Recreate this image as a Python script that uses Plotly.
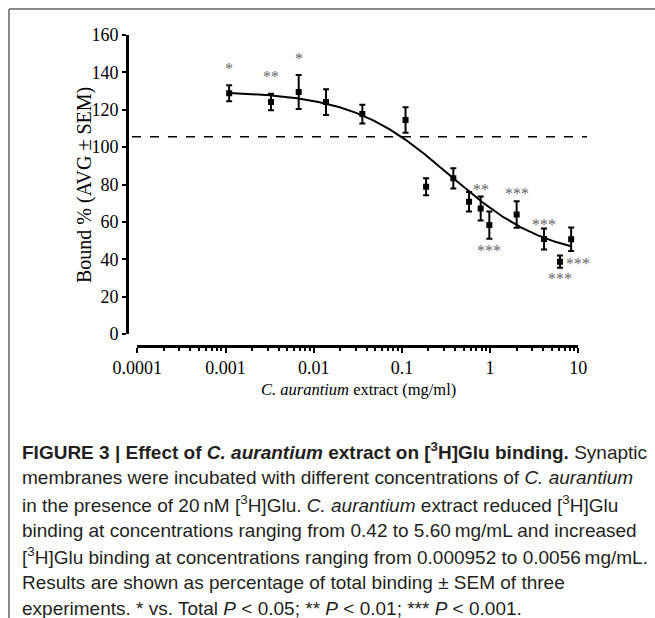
import numpy as np
import plotly.graph_objects as go

# ---------------- data ----------------
conc = [0.00110, 0.00328, 0.00676, 0.0138, 0.0356, 0.110, 0.188, 0.383,
        0.577, 0.782, 0.98, 2.0, 4.09, 6.2, 8.3]
bound = [128.8, 124.1, 129.5, 124.1, 117.7, 114.5, 78.8, 83.3,
         70.8, 67.2, 58.3, 64.0, 50.8, 38.7, 50.7]
sem = [4.3, 4.4, 9.1, 6.9, 5.0, 6.8, 4.6, 5.4,
       5.2, 6.4, 7.3, 7.1, 5.6, 3.3, 6.3]

total_level = 105.6          # dashed reference line

# sigmoidal fit drawn in the figure (4-parameter logistic)
fit_top = 130.0
fit_bottom = 40.0
fit_logec50 = -0.459
fit_hill = 0.78

# significance marks: index of point and label
star_point = [0, 1, 2, 9, 10, 11, 12, 13, 13]
star_text = ["*", "**", "*", "**", "***", "***", "***", "***", "***"]

x_tickvals = [0.0001, 0.001, 0.01, 0.1, 1, 10]
x_ticktext = ["0.0001", "0.001", "0.01", "0.1", "1", "10"]
y_tickvals = [0, 20, 40, 60, 80, 100, 120, 140, 160]

caption_lines = [
    "<b>FIGURE 3 | Effect of <i>C. aurantium</i> extract on [<sup>3</sup>H]Glu binding.</b> Synaptic",
    "membranes were incubated with different concentrations of <i>C. aurantium</i>",
    "in the presence of 20\u2009nM [<sup>3</sup>H]Glu. <i>C. aurantium</i> extract reduced [<sup>3</sup>H]Glu",
    "binding at concentrations ranging from 0.42 to 5.60\u2009mg/mL and increased",
    "[<sup>3</sup>H]Glu binding at concentrations ranging from 0.000952 to 0.0056\u2009mg/mL.",
    "Results are shown as percentage of total binding \u00b1 SEM of three",
    "experiments. * vs. Total <i>P</i> &lt; 0.05; ** <i>P</i> &lt; 0.01; *** <i>P</i> &lt; 0.001.",
]

# ---------------- layout geometry (pixels) ----------------
W, H = 655, 618
XL, XR = 137.3, 578.3      # px of 0.0001 and 10
Y0, Y1 = 334.0, 35.0       # px of 0 and 160
XAXIS_Y = 346.0
YAXIS_X = 127.0

def px(x):
    return x / W

def py(y):
    return 1 - y / H

serif = "Liberation Serif"
sans = "Liberation Sans"

fig = go.Figure()

# fitted curve
lx = np.linspace(np.log10(conc[0]), np.log10(conc[-1]), 300)
fy = fit_bottom + (fit_top - fit_bottom) / (1 + 10 ** ((lx - fit_logec50) * fit_hill))
fig.add_trace(go.Scatter(x=10 ** lx, y=fy, mode="lines",
                         line=dict(color="black", width=2), hoverinfo="skip",
                         showlegend=False))

# data points with SEM
fig.add_trace(go.Scatter(
    x=conc, y=bound, mode="markers",
    marker=dict(symbol="square", size=6, color="black"),
    error_y=dict(type="data", array=sem, visible=True, color="black",
                 thickness=2, width=3),
    showlegend=False))

# dashed total line
fig.add_shape(type="line", xref="paper", yref="y",
              x0=px(132), x1=px(587), y0=total_level, y1=total_level,
              line=dict(color="black", width=1.5, dash="dash"))

# significance stars
star_dx = [0, 0, 0, 0, 0, 0, 0, 18, 0]
star_dy = [24.5, 25.5, 33.5, 18.5, -25.5, 21, 14.5, -1.6, -16.6]
for i, t, dx, dy in zip(star_point, star_text, star_dx, star_dy):
    fig.add_annotation(x=np.log10(conc[i]), y=bound[i], xref="x", yref="y",
                       text=t, showarrow=False, xshift=dx, yshift=dy,
                       xanchor="center", yanchor="middle",
                       font=dict(family=serif, size=16, color="#666666"))

# axis titles
fig.add_annotation(x=px(85), y=py(185), xref="paper", yref="paper",
                   xanchor="center", yanchor="middle",
                   text="Bound % (AVG \u00b1 SEM)", textangle=-90, showarrow=False,
                   font=dict(family=serif, size=20, color="black"))
fig.add_annotation(x=px(358.5), y=py(389), xref="paper", yref="paper",
                   xanchor="center", yanchor="middle",
                   text="<i>C. aurantium</i> extract (mg/ml)", showarrow=False,
                   font=dict(family=serif, size=16.5, color="black"))

# caption
cap_y = [451, 477, 504, 530, 556, 582, 608]
for t, yy in zip(caption_lines, cap_y):
    fig.add_annotation(x=px(20), y=py(yy), xref="paper", yref="paper",
                       xanchor="left", yanchor="middle", text=t, showarrow=False,
                       font=dict(family=sans, size=19, color="#231f20"))

# frame
fig.add_shape(type="line", xref="paper", yref="paper", x0=px(9), x1=1,
              y0=py(9), y1=py(9), line=dict(color="#8a8a8a", width=2))
fig.add_shape(type="line", xref="paper", yref="paper", x0=px(9), x1=px(9),
              y0=py(9), y1=0, line=dict(color="#8a8a8a", width=2))

minor_vals = [m * 10.0 ** e for e in range(-4, 1) for m in range(2, 10)]

fig.update_layout(
    width=W, height=H, margin=dict(l=0, r=0, t=0, b=0, autoexpand=False),
    paper_bgcolor="white", plot_bgcolor="white", showlegend=False,
    xaxis=dict(type="log", range=[-4, 1], domain=[px(XL), px(XR)],
               anchor="free", position=py(XAXIS_Y), automargin=False,
               showline=True, linecolor="black", linewidth=2.5,
               showgrid=False, zeroline=False,
               ticks="outside", ticklen=5, tickwidth=2, tickcolor="black",
               tickmode="array", tickvals=x_tickvals, ticktext=x_ticktext,
               tickfont=dict(family=serif, size=18, color="black"),
               minor=dict(tickmode="array", tickvals=minor_vals, ticks="outside",
                          ticklen=3, tickwidth=1.5, tickcolor="black", showgrid=False)),
    yaxis=dict(range=[0, 160], domain=[py(Y0), py(Y1)],
               anchor="free", position=px(YAXIS_X), automargin=False,
               showline=True, linecolor="black", linewidth=3,
               showgrid=False, zeroline=False,
               ticks="outside", ticklen=4, tickwidth=2, tickcolor="black",
               tickmode="array", tickvals=y_tickvals,
               tickfont=dict(family=serif, size=18, color="black")),
)

fig.write_html("out.html", post_script="document.body.style.margin='0';")
